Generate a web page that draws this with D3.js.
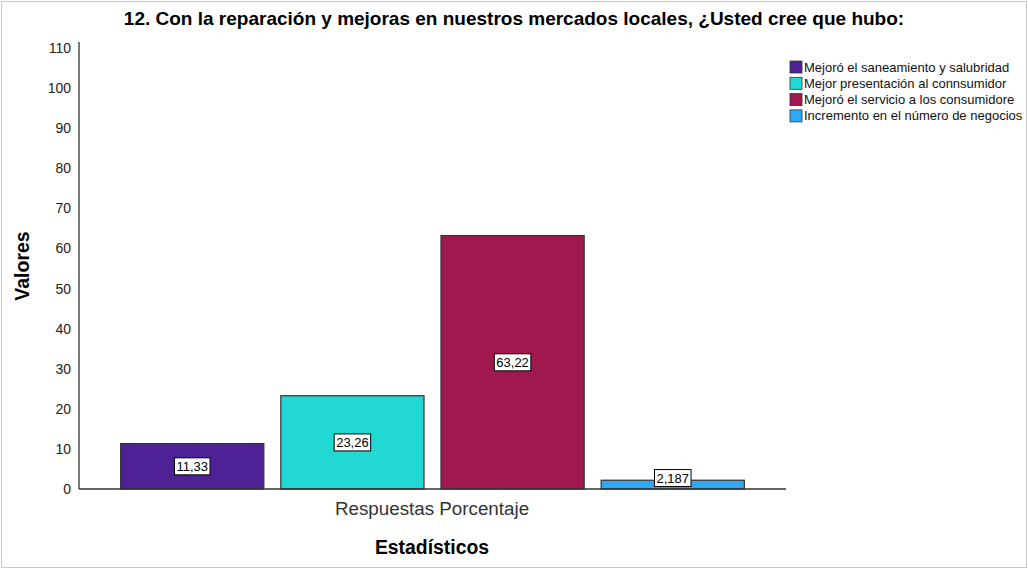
<!DOCTYPE html>
<html>
<head>
<meta charset="utf-8">
<script src="https://cdn.jsdelivr.net/npm/d3@7"></script>
<style>
  body { margin: 0; background: #fff; }
  text { font-family: "Liberation Sans", Arial, sans-serif; }
</style>
</head>
<body>
<div id="chart"></div>
<script>
// chart data
var categories = ["Mejoró el saneamiento y salubridad", "Mejor presentación al connsumidor", "Mejoró el servicio a los consumidore", "Incremento en el número de negocios"];
var values = [11.33, 23.26, 63.22, 2.187];
var valueLabels = ["11,33", "23,26", "63,22", "2,187"];
var colors = ["#4f2196", "#22d8d3", "#a0194e", "#2ea8f7"];
var yTicks = [0, 10, 20, 30, 40, 50, 60, 70, 80, 90, 100, 110];

var svgWidth = 1028, svgHeight = 569;

var svg = d3.select("#chart").append("svg")
    .attr("width", svgWidth)
    .attr("height", svgHeight);

// outer frame
svg.append("rect")
    .attr("x", 1.5).attr("y", 1.5)
    .attr("width", svgWidth - 3).attr("height", svgHeight - 3)
    .attr("fill", "#fff")
    .attr("stroke", "#c8c8c8");

var plot = { left: 79, right: 786, top: 42, bottom: 489 };

var xScale = d3.scaleBand()
    .domain(categories)
    .range([plot.left, plot.right])
    .paddingInner(0.106)
    .paddingOuter(0.26);

var yScale = d3.scaleLinear()
    .domain([0, 110])
    .range([plot.bottom, 48]);

// bars
svg.selectAll("rect.bar")
    .data(categories)
    .enter()
    .append("rect")
    .attr("class", "bar")
    .attr("x", d => xScale(d))
    .attr("y", (d, i) => yScale(values[i]))
    .attr("width", xScale.bandwidth())
    .attr("height", (d, i) => yScale(0) - yScale(values[i]))
    .attr("fill", (d, i) => colors[i])
    .attr("stroke", "#333")
    .attr("stroke-width", 1.2);

// axes
var leftAxis = d3.axisLeft(yScale).tickValues(yTicks).tickSize(0).tickPadding(8);
var yAxisG = svg.append("g")
    .attr("transform", `translate(${plot.left}, 0)`)
    .call(leftAxis);
yAxisG.select(".domain").remove();
yAxisG.selectAll("text")
    .style("font-size", "14px")
    .attr("fill", "#222");

svg.append("line")
    .attr("x1", plot.left).attr("x2", plot.left)
    .attr("y1", plot.top).attr("y2", plot.bottom)
    .attr("stroke", "#333").attr("stroke-width", 1.3);
svg.append("line")
    .attr("x1", plot.left).attr("x2", plot.right)
    .attr("y1", plot.bottom).attr("y2", plot.bottom)
    .attr("stroke", "#333").attr("stroke-width", 1.3);

// value labels
var labels = svg.selectAll("g.vlabel")
    .data(categories)
    .enter()
    .append("g")
    .attr("class", "vlabel")
    .attr("transform", function (d, i) {
        var cy = (yScale(values[i]) + yScale(0)) / 2;
        cy = Math.min(cy, plot.bottom - 11);
        return `translate(${xScale(d) + xScale.bandwidth() / 2}, ${cy})`;
    });

labels.append("text")
    .attr("text-anchor", "middle")
    .attr("dy", "0.35em")
    .style("font-size", "13px")
    .attr("fill", "#000")
    .text((d, i) => valueLabels[i]);

labels.each(function () {
    var g = d3.select(this);
    var bb = g.select("text").node().getBBox();
    g.insert("rect", "text")
        .attr("x", bb.x - 2).attr("y", bb.y - 1)
        .attr("width", bb.width + 4).attr("height", bb.height + 2)
        .attr("fill", "#fff")
        .attr("stroke", "#000")
        .attr("stroke-width", 1);
});

// titles
svg.append("text")
    .attr("x", 514).attr("y", 25)
    .attr("text-anchor", "middle")
    .style("font-size", "19px")
    .style("font-weight", "bold")
    .text("12. Con la reparación y mejoras en nuestros mercados locales, ¿Usted cree que hubo:");

svg.append("text")
    .attr("transform", "rotate(-90)")
    .attr("x", -266).attr("y", 29)
    .attr("text-anchor", "middle")
    .style("font-size", "19.5px")
    .style("font-weight", "bold")
    .text("Valores");

svg.append("text")
    .attr("x", 432).attr("y", 515)
    .attr("text-anchor", "middle")
    .style("font-size", "18.8px")
    .attr("fill", "#333")
    .text("Respuestas Porcentaje");

svg.append("text")
    .attr("x", 432).attr("y", 554)
    .attr("text-anchor", "middle")
    .style("font-size", "19.4px")
    .style("font-weight", "bold")
    .text("Estadísticos");

// legend
var legend = svg.selectAll("g.legend")
    .data(categories)
    .enter()
    .append("g")
    .attr("class", "legend")
    .attr("transform", (d, i) => `translate(790, ${61 + i * 16.3})`);

legend.append("rect")
    .attr("width", 12).attr("height", 12)
    .attr("fill", (d, i) => colors[i])
    .attr("stroke", "#333")
    .attr("stroke-width", 0.8);

legend.append("text")
    .attr("x", 14).attr("y", 10.5)
    .style("font-size", "13px")
    .attr("fill", "#111")
    .text(d => d);
</script>
</body>
</html>
